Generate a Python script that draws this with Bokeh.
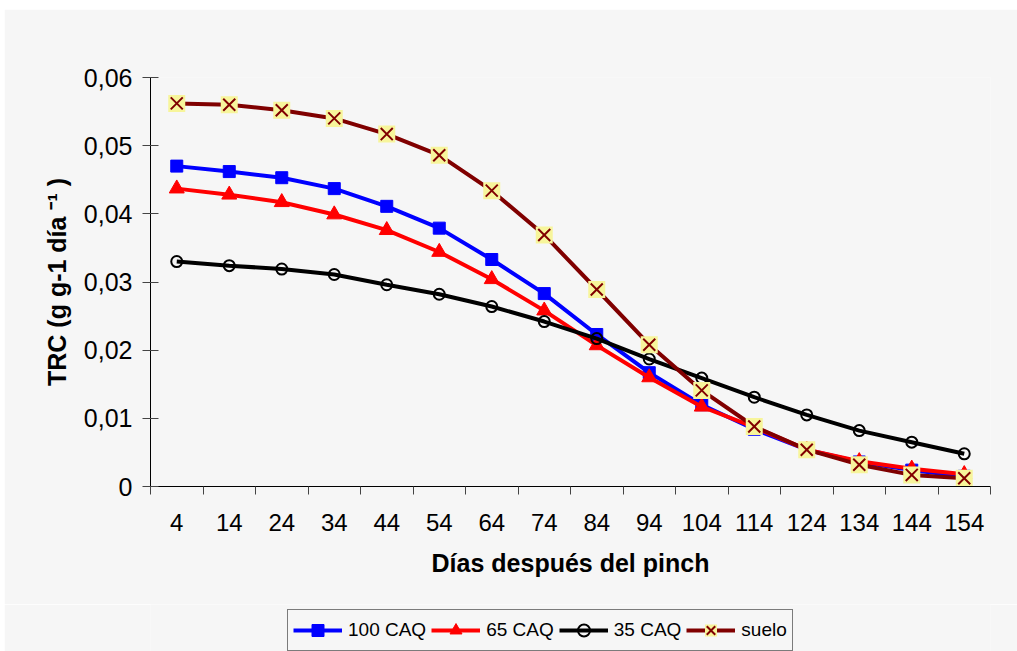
from bokeh.plotting import figure
from bokeh.layouts import column
from bokeh.models import FixedTicker, CustomJSTickFormatter, Legend, LegendItem
from bokeh.embed import file_html
from bokeh.resources import INLINE

days = [4, 14, 24, 34, 44, 54, 64, 74, 84, 94, 104, 114, 124, 134, 144, 154]
caq100 = [0.0470, 0.0462, 0.0453, 0.0437, 0.0411, 0.0379, 0.0333, 0.0283,
          0.0223, 0.0167, 0.0120, 0.0084, 0.0054, 0.0036, 0.0024, 0.0015]
caq65 = [0.0437, 0.0428, 0.0417, 0.0399, 0.0376, 0.0344, 0.0304, 0.0258,
         0.0207, 0.0160, 0.0117, 0.0087, 0.0054, 0.0037, 0.0026, 0.0018]
caq35 = [0.0330, 0.0324, 0.0319, 0.0311, 0.0296, 0.0282, 0.0264, 0.0242,
         0.0217, 0.0187, 0.0159, 0.0131, 0.0105, 0.0082, 0.0065, 0.0048]
suelo = [0.0562, 0.0560, 0.0552, 0.0540, 0.0517, 0.0486, 0.0434, 0.0369,
         0.0289, 0.0208, 0.0141, 0.0088, 0.0054, 0.0032, 0.0017, 0.0012]
y_ticks = [0, 0.01, 0.02, 0.03, 0.04, 0.05, 0.06]
series_names = ["100 CAQ", "65 CAQ", "35 CAQ", "suelo"]

BG = "#f6f6f6"
FONT = "Liberation Sans"

p = figure(width=1013, height=595, output_backend="svg", toolbar_location=None,
           x_range=(-1, 159), y_range=(0, 0.06), margin=(9, 0, 0, 4),
           min_border_left=146, min_border_right=27, min_border_top=68,
           min_border_bottom=118)
p.background_fill_color = BG
p.border_fill_color = BG
p.outline_line_color = None
p.xgrid.visible = False
p.ygrid.visible = False

# x axis
xa = p.xaxis[0]
xa.ticker = FixedTicker(ticks=days, minor_ticks=[d - 5 for d in days] + [days[-1] + 5])
xa.major_tick_out = 0
xa.major_tick_in = 0
xa.minor_tick_out = 8
xa.minor_tick_in = 0
xa.minor_tick_line_color = "#444444"
xa.major_label_standoff = 19
xa.major_label_text_font = FONT
xa.major_label_text_font_size = "24px"
xa.major_label_text_color = "black"
xa.axis_label = "Días después del pinch"
xa.axis_label_text_font = FONT
xa.axis_label_text_font_size = "25px"
xa.axis_label_text_font_style = "bold"
xa.axis_label_text_color = "black"
xa.axis_label_standoff = 15
xa.axis_line_color = "black"

# y axis
ya = p.yaxis[0]
ya.ticker = FixedTicker(ticks=y_ticks, minor_ticks=[])
ya.formatter = CustomJSTickFormatter(code="""
    if (Math.abs(tick) < 1e-9) { return '0'; }
    return tick.toFixed(2).replace('.', ',');
""")
ya.major_tick_out = 8
ya.major_tick_in = 8
ya.major_tick_line_color = "#444444"
ya.major_label_standoff = 10
ya.major_label_text_font = FONT
ya.major_label_text_font_size = "25px"
ya.major_label_text_color = "black"
ya.axis_label = "TRC (g g-1 día ⁻¹ )"
ya.axis_label_text_font = FONT
ya.axis_label_text_font_size = "25px"
ya.axis_label_text_font_style = "bold"
ya.axis_label_text_color = "black"
ya.axis_label_standoff = 10
ya.axis_line_color = "black"

# series styles
styles = [
    dict(color="#0000ff", marker="square", size=12, fill="#0000ff", lw=1),
    dict(color="#ff0000", marker="triangle", size=15, fill="#ff0000", lw=1),
    dict(color="black", marker="circle", size=11, fill=None, lw=2),
]
series = [caq100, caq65, caq35]

for vals, st in zip(series, styles):
    p.line(days, vals, line_color=st["color"], line_width=4)
    p.scatter(days, vals, marker=st["marker"], size=st["size"],
              fill_color=st["fill"], line_color=st["color"], line_width=st["lw"])

p.line(days, suelo, line_color="#800000", line_width=4)
p.scatter(days, suelo, marker="square", size=17, fill_color="#f7f59b", line_color=None)
p.scatter(days, suelo, marker="x", size=17, line_color="#800000", line_width=2)

# legend figure (below the chart); its ranges keep the series out of view,
# so only the legend swatches show.
q = figure(width=1013, height=47, output_backend="svg", toolbar_location=None,
           x_axis_location=None, y_axis_location=None, margin=(0, 0, 0, 4),
           min_border_left=0, min_border_right=0, min_border_top=0,
           min_border_bottom=0, x_range=(0, 1), y_range=(0, 1))
q.background_fill_color = BG
q.border_fill_color = BG
q.outline_line_color = None
q.xgrid.visible = False
q.ygrid.visible = False

items = []
for name, vals, st in zip(series_names[:3], series, styles):
    lr = q.line(days, vals, line_color=st["color"], line_width=4)
    mr = q.scatter(days, vals, marker=st["marker"], size=st["size"] - 2,
                   fill_color=st["fill"], line_color=st["color"], line_width=st["lw"])
    items.append(LegendItem(label=name, renderers=[lr, mr]))
lr = q.line(days, suelo, line_color="#800000", line_width=4)
mr1 = q.scatter(days, suelo, marker="square", size=15, fill_color="#f7f59b", line_color=None)
mr2 = q.scatter(days, suelo, marker="x", size=15, line_color="#800000", line_width=2)
items.append(LegendItem(label=series_names[3], renderers=[lr, mr1, mr2]))

legend = Legend(items=items, orientation="horizontal", location=(137, 0))
legend.label_text_font = FONT
legend.label_text_font_size = "19px"
legend.label_text_color = "black"
legend.glyph_width = 49
legend.glyph_height = 30
legend.label_standoff = 6
legend.spacing = 5
legend.padding = 5
legend.margin = 0
legend.border_line_color = "black"
legend.border_line_width = 1
legend.background_fill_color = BG
legend.background_fill_alpha = 1
q.add_layout(legend)

layout = column(p, q, spacing=0)
open("out.html", "w").write(file_html(layout, INLINE))
